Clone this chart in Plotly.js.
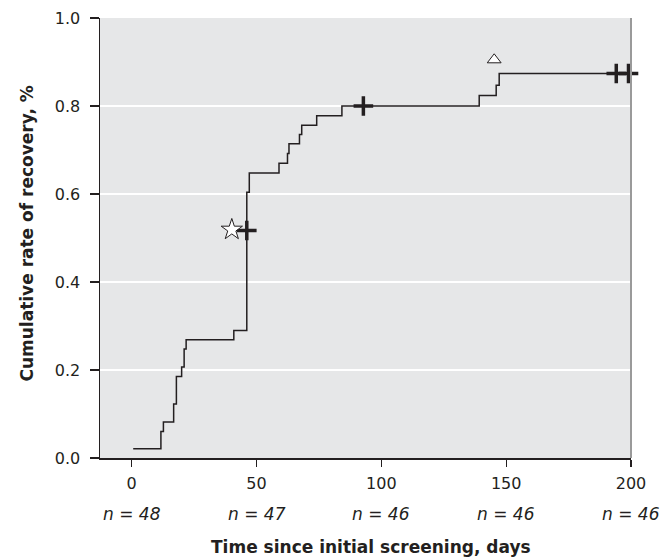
<!DOCTYPE html>
<html>
<head>
<meta charset="utf-8">
<script src="https://cdn.plot.ly/plotly-3.0.1.min.js"></script>
<style>html,body{margin:0;padding:0;background:#fff;}#chart{width:663px;height:559px;}</style>
</head>
<body>
<div id="chart"></div>
<script>
// Kaplan-Meier style step curve (days, cumulative rate)
const stepDays = [0.6, 11.7, 12.7, 16.8, 17.9, 20.0, 21.0, 21.8, 40.9, 46.1, 47.1, 59.0, 62.4, 63.0, 67.2, 68.1, 74.1, 84.2, 139.2, 146.0, 147.2, 200];
const stepRates = [0.021, 0.060, 0.082, 0.123, 0.185, 0.207, 0.248, 0.269, 0.290, 0.604, 0.648, 0.670, 0.692, 0.714, 0.735, 0.756, 0.778, 0.800, 0.824, 0.847, 0.874, 0.874];
// censored observations (+)
const censorDays = [46.1, 92.8, 194.1, 199.0];
const censorRates = [0.517, 0.800, 0.874, 0.874];
// special markers
const starDays = [40.1];
const starRates = [0.519];
const triDays = [145.2];
const triRates = [0.905];
// tick labels and at-risk numbers
const xTicks = [0, 50, 100, 150, 200];
const yTicks = [0, 0.2, 0.4, 0.6, 0.8, 1.0];
const atRisk = ["n = 48", "n = 47", "n = 46", "n = 46", "n = 46"];

const ink = '#231f20';
const font = 'DejaVu Sans, Verdana, sans-serif';

const traces = [
  {x: stepDays, y: stepRates, mode: 'lines', line: {shape: 'hv', color: ink, width: 1.5}, hoverinfo: 'x+y'},
  {x: censorDays, y: censorRates, mode: 'markers', cliponaxis: false,
   marker: {symbol: 'cross-thin', size: 14, line: {color: ink, width: 3.5}}},
  {x: starDays, y: starRates, mode: 'markers', cliponaxis: false,
   marker: {symbol: 'star', size: 16, color: '#ffffff', line: {color: ink, width: 1}}},
  {x: triDays, y: triRates, mode: 'markers', cliponaxis: false,
   marker: {symbol: 'triangle-up', size: 12, color: '#ffffff', line: {color: ink, width: 1}}}
];

const annotations = xTicks.map((t, i) => ({
  x: t, xref: 'x', y: -0.127, yref: 'paper', text: atRisk[i], showarrow: false,
  font: {family: font, size: 17, color: ink, style: 'italic'}, xanchor: 'center', yanchor: 'middle'
}));
annotations.push({
  x: 0.51, xref: 'paper', y: -0.203, yref: 'paper', text: '<b>Time since initial screening, days</b>',
  showarrow: false, font: {family: font, size: 17, color: ink}, xanchor: 'center', yanchor: 'middle'
});
annotations.push({
  x: -0.1376, xref: 'paper', y: 0.51, yref: 'paper', text: '<b>Cumulative rate of recovery, %</b>',
  textangle: -90, showarrow: false, font: {family: font, size: 17, color: ink}, xanchor: 'center', yanchor: 'middle'
});

const layout = {
  width: 663, height: 559,
  margin: {l: 100, r: 32.3, t: 18.3, b: 100.7, pad: 0},
  paper_bgcolor: '#ffffff', plot_bgcolor: '#e6e7e8',
  showlegend: false,
  font: {family: font, size: 16, color: ink},
  xaxis: {
    range: [-12.7, 200], tickvals: xTicks, ticktext: xTicks.map(String),
    showgrid: false, zeroline: false, showline: true, linecolor: ink, linewidth: 1.5,
    ticks: 'outside', ticklen: 7, tickwidth: 1.2, tickcolor: ink, ticklabelstandoff: 3,
    tickfont: {family: font, size: 16, color: ink}
  },
  yaxis: {
    range: [0, 1], tickvals: yTicks, tickformat: '.1f',
    showgrid: true, gridcolor: '#ffffff', gridwidth: 1.5, zeroline: false,
    showline: true, linecolor: ink, linewidth: 1.5,
    ticks: 'outside', ticklen: 9, tickwidth: 1.2, tickcolor: ink, ticklabelstandoff: 6,
    tickfont: {family: font, size: 16, color: ink}
  },
  shapes: [
    {type: 'line', xref: 'paper', yref: 'paper', x0: 1, x1: 1, y0: 0, y1: 1, line: {color: '#9a9a9a', width: 2}}
  ],
  annotations: annotations
};

Plotly.newPlot('chart', traces, layout, {displayModeBar: false, staticPlot: true});
</script>
</body>
</html>
